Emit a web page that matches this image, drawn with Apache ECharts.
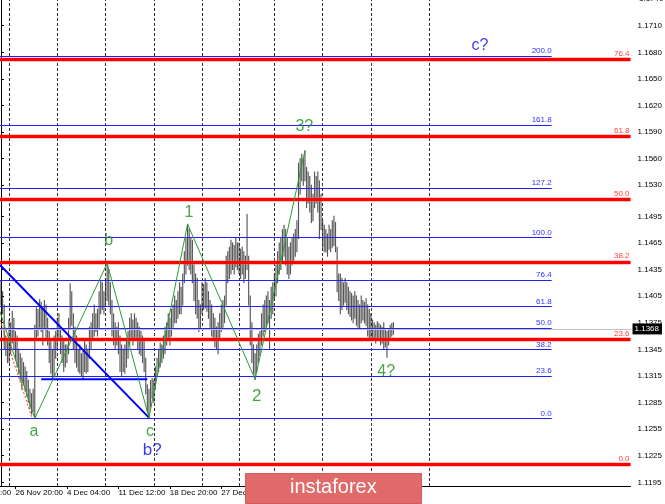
<!DOCTYPE html>
<html><head><meta charset="utf-8">
<script src="https://cdn.jsdelivr.net/npm/echarts@6/dist/echarts.min.js"></script>
<style>html,body{margin:0;padding:0;background:#fff;}#c{width:665px;height:504px;}</style>
</head><body><div id="c"></div>
<script>
// ---- data (EUR/USD H4, bar index = position) ----
const barHigh = [
1.1422,1.1410,1.1395,1.1360,1.1355,1.1378,1.1375,1.1388,1.1380,1.1365,
1.1360,1.1345,1.1340,1.1335,1.1330,1.1325,1.1320,1.1310,1.1300,1.1295,
1.1300,1.1372,1.1392,1.1390,1.1401,1.1398,1.1392,1.1400,1.1395,1.1380,
1.1365,1.1355,1.1345,1.1360,1.1365,1.1380,1.1385,1.1370,1.1360,1.1355,
1.1350,1.1350,1.1380,1.1419,1.1410,1.1385,1.1370,1.1360,1.1345,1.1350,
1.1340,1.1345,1.1355,1.1350,1.1345,1.1370,1.1375,1.1385,1.1395,1.1385,
1.1390,1.1410,1.1423,1.1420,1.1410,1.1425,1.1442,1.1435,1.1420,1.1400,
1.1385,1.1375,1.1370,1.1375,1.1360,1.1350,1.1345,1.1350,1.1355,1.1365,
1.1380,1.1385,1.1378,1.1385,1.1380,1.1375,1.1370,1.1365,1.1360,1.1355,
1.1335,1.1305,1.1300,1.1310,1.1312,1.1310,1.1325,1.1335,1.1345,1.1352,
1.1350,1.1360,1.1370,1.1375,1.1385,1.1380,1.1390,1.1395,1.1405,1.1400,
1.1410,1.1420,1.1415,1.1430,1.1455,1.1470,1.1486,1.1480,1.1470,1.1468,
1.1440,1.1430,1.1425,1.1400,1.1395,1.1420,1.1418,1.1425,1.1420,1.1410,
1.1400,1.1395,1.1385,1.1380,1.1370,1.1375,1.1385,1.1395,1.1400,1.1405,
1.1450,1.1455,1.1460,1.1468,1.1465,1.1462,1.1470,1.1465,1.1465,1.1458,
1.1460,1.1455,1.1450,1.1497,1.1450,1.1405,1.1375,1.1350,1.1340,1.1350,
1.1362,1.1365,1.1385,1.1395,1.1400,1.1405,1.1410,1.1400,1.1415,1.1420,
1.1430,1.1440,1.1455,1.1465,1.1470,1.1480,1.1485,1.1480,1.1470,1.1460,
1.1465,1.1470,1.1475,1.1480,1.1490,1.1555,1.1560,1.1565,1.1560,1.1569,
1.1550,1.1545,1.1540,1.1530,1.1520,1.1545,1.1540,1.1545,1.1535,1.1520,
1.1490,1.1485,1.1480,1.1475,1.1485,1.1480,1.1490,1.1495,1.1488,1.1460,
1.1430,1.1430,1.1425,1.1420,1.1425,1.1420,1.1415,1.1410,1.1408,1.1405,
1.1410,1.1405,1.1400,1.1395,1.1405,1.1400,1.1398,1.1402,1.1395,1.1390,
1.1385,1.1378,1.1375,1.1372,1.1376,1.1374,1.1372,1.1370,1.1375,1.1368,
1.1365,1.1368,1.1372,1.1374,1.1375];
const barLow = [
1.1395,1.1385,1.1345,1.1338,1.1330,1.1330,1.1340,1.1352,1.1345,1.1333,
1.1325,1.1318,1.1310,1.1300,1.1305,1.1298,1.1292,1.1285,1.1278,1.1272,
1.1275,1.1267,1.1355,1.1360,1.1370,1.1365,1.1350,1.1370,1.1355,1.1350,
1.1330,1.1318,1.1310,1.1315,1.1335,1.1345,1.1355,1.1340,1.1330,1.1320,
1.1325,1.1330,1.1340,1.1370,1.1372,1.1345,1.1330,1.1325,1.1320,1.1318,
1.1315,1.1312,1.1320,1.1318,1.1320,1.1335,1.1345,1.1355,1.1360,1.1365,
1.1360,1.1370,1.1385,1.1390,1.1385,1.1395,1.1400,1.1395,1.1385,1.1360,
1.1350,1.1345,1.1350,1.1340,1.1320,1.1315,1.1320,1.1318,1.1325,1.1335,
1.1350,1.1355,1.1350,1.1358,1.1355,1.1345,1.1340,1.1338,1.1330,1.1320,
1.1295,1.1275,1.1268,1.1280,1.1290,1.1285,1.1300,1.1315,1.1320,1.1325,
1.1330,1.1335,1.1340,1.1350,1.1355,1.1350,1.1360,1.1370,1.1375,1.1375,
1.1380,1.1385,1.1385,1.1395,1.1420,1.1430,1.1440,1.1435,1.1430,1.1420,
1.1400,1.1385,1.1380,1.1365,1.1370,1.1385,1.1390,1.1392,1.1388,1.1380,
1.1370,1.1360,1.1355,1.1348,1.1345,1.1340,1.1355,1.1365,1.1370,1.1375,
1.1395,1.1420,1.1425,1.1430,1.1435,1.1430,1.1438,1.1435,1.1430,1.1425,
1.1430,1.1420,1.1425,1.1435,1.1395,1.1350,1.1330,1.1318,1.1311,1.1320,
1.1330,1.1338,1.1350,1.1360,1.1365,1.1370,1.1375,1.1345,1.1380,1.1385,
1.1400,1.1405,1.1420,1.1430,1.1435,1.1445,1.1450,1.1440,1.1430,1.1425,
1.1430,1.1440,1.1445,1.1450,1.1455,1.1470,1.1520,1.1535,1.1530,1.1535,
1.1505,1.1510,1.1500,1.1488,1.1490,1.1505,1.1510,1.1500,1.1470,1.1480,
1.1460,1.1455,1.1455,1.1450,1.1458,1.1455,1.1460,1.1462,1.1455,1.1410,
1.1400,1.1385,1.1390,1.1395,1.1398,1.1390,1.1385,1.1382,1.1378,1.1375,
1.1380,1.1372,1.1370,1.1368,1.1375,1.1378,1.1375,1.1372,1.1360,1.1355,
1.1355,1.1358,1.1355,1.1352,1.1356,1.1355,1.1350,1.1352,1.1345,1.1348,
1.1336,1.1350,1.1355,1.1360,1.1362];

const xTickIdx = [9, 41, 73, 105, 137];
const xTickLabels = ['26 Nov 20:00', '4 Dec 04:00', '11 Dec 12:00', '18 Dec 20:00', '27 Dec 04:00'];
const weekStartIdx = [5, 35, 65, 95, 125, 148, 170, 200, 230, 266];
const yTickValues = [1.1195,1.1225,1.1255,1.1285,1.1315,1.1345,1.1375,1.1405,1.1435,1.1465,1.1495,1.1530,1.1560,1.1590,1.1620,1.1650,1.1680,1.1710];
const yTopLabel = '1.1740';

const fibExtNames  = ['200.0','161.8','127.2','100.0','76.4','61.8','50.0','38.2','23.6','0.0'];
const fibExtPrices = [1.16759,1.15978,1.15269,1.14713,1.14231,1.13932,1.13690,1.13449,1.13150,1.12667];
const fibExtEndIdx = 342.4;
const fibRetNames  = ['76.4','61.8','50.0','38.2','23.6','0.0'];
const fibRetPrices = [1.16720,1.15848,1.15142,1.14435,1.13560,1.12149];

const zigzagIdx   = [-0.62, 21, 66, 92, 116, 158, 189];
const zigzagPrice = [1.13874, 1.1267, 1.1442, 1.1268, 1.14863, 1.13112, 1.1569];
const trendIdx   = [-0.62, 92];
const trendPrice = [1.14401, 1.1268];
const flatIdx    = [25, 91];
const flatPrice  = [1.13112, 1.13112];
const dottedIdx   = [-0.62, 19];
const dottedPrice = [1.13781, 1.12690];

const waveText  = ['a','b','c','b?','1','2','3?','4?','c?'];
const waveIdx   = [20.5, 67, 92.7, 94, 116.9, 159, 188.6, 239.5, 297.8];
const wavePrice = [1.12521, 1.14672, 1.12517, 1.12306, 1.14987, 1.12923, 1.15961, 1.13197, 1.16874];

const lastPrice = 1.1368;

// ---- chart ----
const X_MIN = -0.62, X_MAX = 391.44;
const Y_MIN = 1.119083, Y_MAX = 1.173899;
const chart = echarts.init(document.getElementById('c'), null, {renderer: 'canvas'});
const FONT = 'Liberation Sans, Arial, sans-serif';
const blueWaves = ['b?', 'c?'];
const bigWaves = ['2', 'b?'];

const option = {
  animation: false,
  backgroundColor: '#ffffff',
  textStyle: {fontFamily: FONT},
  grid: {left: 0, right: 33, top: 0, bottom: 18},
  xAxis: {
    type: 'value', min: X_MIN, max: X_MAX,
    axisLine: {show: true, lineStyle: {color: '#000', width: 1}},
    axisTick: {show: true, customValues: xTickIdx, length: 3, lineStyle: {color: '#000'}},
    axisLabel: {customValues: xTickIdx, formatter: v => xTickLabels[xTickIdx.indexOf(v)] || '',
      align: 'left', fontSize: 8, color: '#000', margin: 3, fontFamily: FONT},
    splitLine: {show: false}
  },
  yAxis: {
    type: 'value', position: 'right', min: Y_MIN, max: Y_MAX,
    axisLine: {show: true, lineStyle: {color: '#000', width: 1}},
    axisTick: {show: true, customValues: yTickValues, length: 3, lineStyle: {color: '#000'}},
    axisLabel: {customValues: yTickValues, formatter: v => v.toFixed(4), fontSize: 8, color: '#000', margin: 7, fontFamily: FONT},
    splitLine: {show: false}
  },
  series: [
    { // weekly dashed grid lines
      type: 'line', data: [], z: 1, silent: true,
      markLine: {silent: true, symbol: ['none','none'], precision: 6, label: {show: false},
        lineStyle: {color: '#303030', type: [3, 2], width: 1},
        data: weekStartIdx.map(j => ({xAxis: j}))}
    },
    { // bid line + price box
      type: 'line', data: [], z: 2, silent: true,
      markLine: {silent: true, symbol: ['none','none'], precision: 6,
        lineStyle: {color: '#c0c0c0', type: 'solid', width: 1},
        label: {show: true, position: 'end', distance: 2, formatter: () => lastPrice.toFixed(4),
          backgroundColor: '#000', color: '#fff', fontSize: 8, padding: [2, 3, 1, 2], fontFamily: FONT},
        data: [{yAxis: lastPrice}]}
    },
    { // OHLC bars (high-low)
      type: 'custom', z: 3, silent: true, clip: true,
      data: barHigh.map((h, i) => [i, barLow[i], h]),
      encode: {x: 0, y: [1, 2]},
      renderItem: (params, api) => {
        const j = api.value(0);
        const a = api.coord([j, api.value(1)]);
        const b = api.coord([j, api.value(2)]);
        return {type: 'line', shape: {x1: a[0], y1: a[1] + 0.5, x2: b[0], y2: b[1] - 0.5},
          style: {stroke: 'rgba(30,30,30,0.75)', lineWidth: 1.15}};
      }
    },
    { // red retracement halo
      type: 'line', data: [], z: 4, silent: true,
      markLine: {silent: true, symbol: ['none','none'], precision: 6, label: {show: false},
        lineStyle: {color: 'rgba(255,80,80,0.35)', type: 'solid', width: 5},
        data: fibRetPrices.map(p => ({yAxis: p}))}
    },
    { // red retracement levels
      type: 'line', data: [], z: 5, silent: true,
      markLine: {silent: true, symbol: ['none','none'], precision: 6,
        lineStyle: {color: '#ff0000', type: 'solid', width: 3},
        label: {show: true, position: 'insideEndTop', distance: [1, 2], formatter: '{b}', color: '#ff4040', fontSize: 8, fontFamily: FONT},
        data: fibRetPrices.map((p, i) => ({yAxis: p, name: fibRetNames[i]}))}
    },
    { // blue extension levels
      type: 'line', data: [], z: 6, silent: true,
      markLine: {silent: true, symbol: ['none','none'], precision: 6,
        lineStyle: {color: '#2020ff', type: 'solid', width: 1},
        label: {show: true, position: 'insideEndTop', distance: [0, 1], formatter: '{b}', color: '#3030ff', fontSize: 8, fontFamily: FONT},
        data: fibExtPrices.map((p, i) => [{coord: [X_MIN, p], name: fibExtNames[i]}, {coord: [fibExtEndIdx, p]}])}
    },
    { // red dotted channel line
      type: 'line', z: 6, silent: true, symbol: 'none',
      data: dottedIdx.map((j, i) => [j, dottedPrice[i]]),
      lineStyle: {color: '#ff3030', width: 1, type: [2, 2]}
    },
    { // blue trend line
      type: 'line', z: 7, silent: true, symbol: 'none',
      data: trendIdx.map((j, i) => [j, trendPrice[i]]),
      lineStyle: {color: '#0000ff', width: 2}
    },
    { // blue horizontal
      type: 'line', z: 7, silent: true, symbol: 'none',
      data: flatIdx.map((j, i) => [j, flatPrice[i]]),
      lineStyle: {color: '#0000ff', width: 2}
    },
    { // green zigzag
      type: 'line', z: 8, silent: true, symbol: 'none',
      data: zigzagIdx.map((j, i) => [j, zigzagPrice[i]]),
      lineStyle: {color: '#2e9a2e', width: 1}
    },
    { // wave labels
      type: 'scatter', z: 9, silent: true, symbolSize: 1, itemStyle: {color: 'rgba(0,0,0,0)'},
      data: waveText.map((t, i) => ({
        value: [waveIdx[i], wavePrice[i]],
        label: {show: true, position: 'inside', formatter: t, fontFamily: FONT,
          fontSize: bigWaves.includes(t) ? 17 : 16,
          color: blueWaves.includes(t) ? '#0a0ae0' : '#1a8f1a'}
      }))
    }
  ],
  graphic: [
    {type: 'text', left: 0, top: 489, style: {text: ':00', font: '8px ' + FONT, fill: '#000'}, z: 10},
    {type: 'text', left: 639, top: -5, style: {text: yTopLabel, font: '8px ' + FONT, fill: '#000'}, z: 10},
    {type: 'rect', left: 245, top: 473, shape: {width: 176, height: 30}, style: {fill: '#e06a6a', stroke: '#d25c5c', lineWidth: 1}, z: 20},
    {type: 'text', left: 290, top: 477, style: {text: 'instaforex', font: '20px ' + FONT, fill: '#ffffff'}, z: 21}
  ]
};
chart.setOption(option);
</script>
</body></html>
